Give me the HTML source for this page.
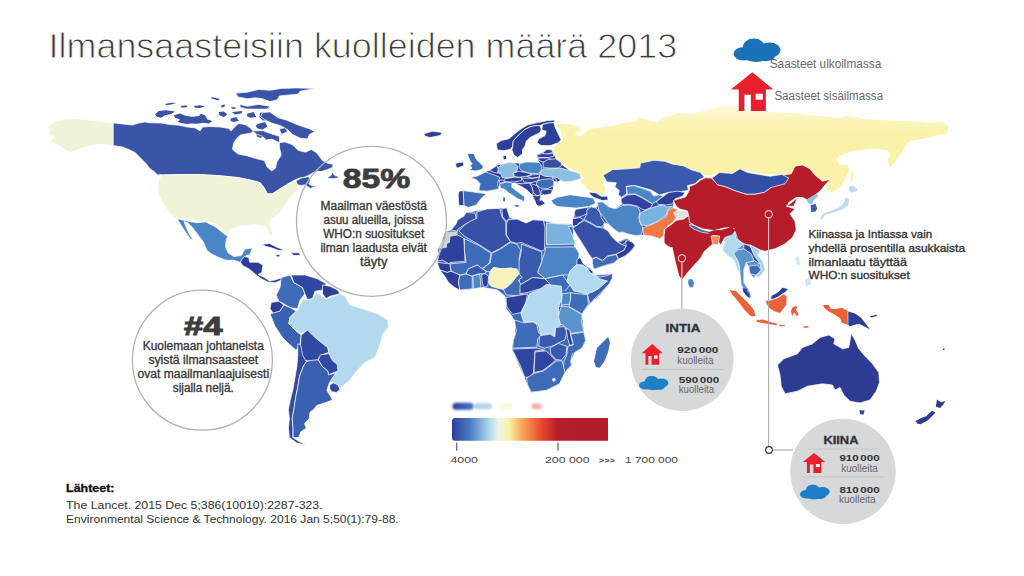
<!DOCTYPE html>
<html><head><meta charset="utf-8"><title>Ilmansaasteisiin kuolleiden määrä 2013</title>
<style>
html,body{margin:0;padding:0;background:#fff;}
body{width:1024px;height:576px;overflow:hidden;font-family:"Liberation Sans",sans-serif;}
svg{display:block;}
text{font-family:"Liberation Sans",sans-serif;}
</style></head><body>
<svg width="1024" height="576" viewBox="0 0 1024 576">
<rect width="1024" height="576" fill="#fff"/>
<g stroke="#fff" stroke-width="0.7" stroke-linejoin="round">
<path d="M47.5 126.2 L51.2 123.8 L55.0 121.2 L62.5 119.5 L70.0 118.8 L80.0 119.2 L90.0 120.0 L102.5 121.8 L113.2 123.0 L113.2 145.5 L107.5 144.5 L102.5 144.5 L96.2 144.5 L90.0 145.5 L85.0 147.0 L80.0 148.8 L75.0 150.8 L70.0 152.5 L66.2 150.0 L60.0 146.2 L55.0 143.8 L50.0 141.2 L53.0 138.8 L55.0 136.2 L51.2 135.5 L47.5 133.8 L50.0 132.0 L51.2 130.0 L48.8 128.8Z" fill="#eff3d7" />
<path d="M113.2 123.0 L122.5 124.0 L132.5 125.0 L138.8 123.0 L145.0 122.0 L150.0 122.8 L161.2 123.0 L170.0 124.6 L178.8 125.2 L187.5 127.1 L195.0 127.8 L200.0 130.9 L202.5 127.1 L210.0 126.5 L220.0 127.1 L228.8 128.4 L231.2 130.9 L235.0 126.5 L238.8 123.4 L245.0 124.6 L250.0 127.8 L253.8 131.5 L250.0 133.4 L245.0 134.0 L240.0 135.2 L236.2 139.0 L233.8 142.8 L232.5 149.0 L233.4 150.3 L238.1 154.1 L247.5 155.9 L256.9 158.8 L264.4 160.6 L267.2 167.2 L271.9 170.9 L275.6 168.1 L276.6 162.5 L281.3 155.0 L279.4 147.5 L279.4 142.8 L285.0 141.9 L292.5 144.7 L298.1 150.3 L305.6 152.2 L311.3 149.4 L316.9 153.1 L322.5 160.6 L327.5 163.1 L333.1 164.5 L332.7 167.3 L329.4 168.7 L325.6 170.2 L320.9 171.6 L318.1 171.1 L313.4 172.5 L308.7 175.3 L304.1 177.2 L299.4 178.1 L294.7 180.0 L290.0 182.8 L280.0 188.8 L272.5 193.8 L267.5 193.8 L263.8 187.5 L260.0 182.5 L250.0 180.0 L237.5 177.5 L220.0 175.8 L200.0 174.5 L180.0 174.5 L161.2 175.0 L161.2 174.5 L157.5 175.0 L153.8 171.2 L150.0 168.8 L146.2 163.8 L142.5 160.0 L138.8 156.2 L135.0 152.5 L128.8 149.5 L122.5 147.0 L113.2 145.5Z" fill="#3a55a8" />
<path d="M295.6 180.9 L302.2 177.7 L308.7 176.7 L310.2 180.9 L308.7 183.7 L312.5 186.1 L318.1 185.2 L314.4 187.0 L310.2 188.4 L307.8 186.6 L305.0 184.7 L301.2 185.6 L297.5 184.7Z" fill="#3a55a8" />
<path d="M327.5 177.7 L331.2 175.3 L332.7 172.0 L333.6 173.9 L335.0 175.8 L338.3 176.2 L337.8 178.1 L333.1 178.6 L329.4 178.6Z" fill="#3a55a8" />
<path d="M155.0 114.6 L158.8 110.9 L166.2 110.2 L175.0 111.5 L171.2 114.0 L165.0 115.2 L161.2 117.8 L156.9 116.8Z" fill="#3a55a8" stroke="none"/>
<path d="M173.8 115.2 L180.0 113.4 L186.2 115.9 L192.5 116.8 L198.8 115.9 L201.2 113.8 L205.0 115.2 L207.5 119.6 L212.5 120.9 L208.8 123.4 L202.5 122.8 L197.5 123.8 L191.2 123.4 L186.2 124.0 L177.5 122.1 L180.0 119.6 L175.0 117.8Z" fill="#3a55a8" stroke="none"/>
<path d="M165.0 104.0 L171.2 102.8 L176.2 103.0 L171.2 104.6 L166.2 105.2Z" fill="#3a55a8" stroke="none"/>
<path d="M180.6 105.9 L186.2 105.2 L187.5 107.1 L181.9 107.8Z" fill="#3a55a8" stroke="none"/>
<path d="M193.8 105.9 L200.0 105.2 L205.0 106.5 L200.0 108.0 L195.0 107.8Z" fill="#3a55a8" stroke="none"/>
<path d="M211.2 97.1 L220.0 99.0 L218.1 100.2 L211.9 98.8Z" fill="#3a55a8" stroke="none"/>
<path d="M218.8 112.1 L223.8 111.5 L227.5 114.6 L223.8 117.1 L219.4 115.2Z" fill="#3a55a8" stroke="none"/>
<path d="M221.2 105.2 L225.0 104.6 L224.4 107.1 L221.5 107.5Z" fill="#3a55a8" stroke="none"/>
<path d="M231.2 107.1 L236.2 107.8 L235.0 109.0 L231.9 108.8Z" fill="#3a55a8" stroke="none"/>
<path d="M231.9 112.1 L242.5 110.9 L241.2 113.4 L235.0 114.6Z" fill="#3a55a8" stroke="none"/>
<path d="M230.6 118.4 L236.2 117.1 L238.8 120.9 L233.8 122.1 L230.6 120.9Z" fill="#3a55a8" stroke="none"/>
<path d="M235.6 93.4 L242.5 92.8 L251.2 95.9 L248.8 98.4 L242.5 97.8 L237.5 96.5Z" fill="#3a55a8" stroke="none"/>
<path d="M240.0 104.6 L245.0 106.5 L253.8 107.1 L270.0 106.5 L268.8 108.4 L256.2 109.0 L245.0 108.8 L240.6 107.1Z" fill="#3a55a8" stroke="none"/>
<path d="M247.5 113.4 L253.8 112.1 L256.2 117.1 L250.0 117.8 L246.9 115.9Z" fill="#3a55a8" stroke="none"/>
<path d="M260.0 112.8 L268.8 112.1 L273.8 115.9 L278.0 117.1 L278.0 120.2 L270.0 120.9 L262.5 120.2 L259.4 117.1Z" fill="#3a55a8" stroke="none"/>
<path d="M257.5 124.0 L265.0 122.1 L267.5 126.5 L262.5 129.6 L257.5 128.4 L255.6 125.9Z" fill="#3a55a8" stroke="none"/>
<path d="M256.2 133.4 L261.2 134.0 L266.2 135.9 L260.0 137.8 L256.9 136.5Z" fill="#3a55a8" stroke="none"/>
<path d="M236.3 93.1 L247.5 92.2 L258.8 89.4 L270.0 90.3 L281.3 88.4 L296.3 87.9 L315.0 88.4 L300.0 91.3 L298.1 94.1 L288.8 95.0 L279.4 95.9 L277.5 99.7 L270.0 101.6 L262.5 98.8 L255.0 97.8 L247.5 98.8 L238.1 96.9Z" fill="#3a55a8" />
<path d="M240.0 104.4 L247.5 106.3 L258.8 104.4 L270.0 106.3 L266.3 109.1 L255.0 109.1 L247.5 109.1 L240.0 107.2Z" fill="#3a55a8" />
<path d="M262.5 112.8 L270.0 111.9 L277.5 117.5 L286.9 120.3 L298.1 125.0 L309.4 128.8 L315.0 131.6 L309.4 134.4 L307.5 139.1 L300.0 138.1 L292.5 134.4 L288.8 130.6 L281.3 125.9 L271.9 123.1 L264.4 119.4 L260.6 116.6Z" fill="#3a55a8" />
<path d="M279.4 128.8 L285.0 127.8 L287.8 131.6 L281.3 134.4Z" fill="#3a55a8" />
<path d="M252.2 131.0 L262.5 130.6 L270.0 133.4 L279.4 136.3 L279.4 142.8 L271.9 139.1 L266.3 140.0 L262.5 136.3 L256.9 134.4Z" fill="#3a55a8" />
<path d="M161.2 175.0 L180.0 174.5 L200.0 174.5 L220.0 175.8 L237.5 177.5 L250.0 180.0 L260.0 182.5 L263.8 187.5 L267.5 193.8 L272.5 193.8 L280.0 188.8 L290.0 182.8 L292.8 182.3 L295.6 180.9 L297.5 184.7 L297.5 190.0 L293.8 193.8 L290.0 197.5 L287.5 201.2 L285.0 205.0 L282.5 208.8 L280.0 212.5 L276.2 215.5 L272.5 217.5 L270.5 221.2 L270.0 225.0 L271.8 230.0 L272.5 235.0 L270.0 236.2 L267.5 232.0 L266.2 227.5 L263.0 225.8 L260.0 225.0 L255.0 224.5 L250.0 225.0 L245.0 225.5 L240.0 226.2 L235.0 227.8 L230.0 230.0 L228.5 232.5 L227.5 235.0 L224.5 232.5 L222.5 230.0 L220.0 227.0 L217.5 225.0 L213.8 223.2 L210.0 222.5 L205.0 222.5 L200.0 222.5 L196.2 221.0 L192.5 220.0 L185.0 219.2 L177.5 218.8 L175.0 217.5 L171.2 214.0 L167.5 210.0 L163.8 205.0 L161.2 200.0 L159.0 195.0 L157.5 190.0 L157.8 185.0 L158.8 180.0Z" fill="#eff3d7" />
<path d="M177.5 218.7 L186.9 220.9 L196.3 222.8 L205.6 221.9 L215.0 226.6 L224.4 234.1 L227.6 235.9 L226.3 239.7 L225.3 246.3 L228.1 252.8 L233.8 256.6 L241.3 255.6 L245.0 249.1 L252.5 248.1 L249.7 254.7 L245.9 255.6 L243.1 260.3 L239.4 262.2 L233.8 260.3 L226.3 260.3 L218.8 257.5 L211.3 253.8 L206.6 250.0 L203.8 242.5 L198.1 235.0 L192.5 227.5 L187.8 222.8 L184.1 221.5 L185.9 226.6 L188.8 233.1 L193.4 240.6 L190.6 239.1 L185.9 232.8 L181.3 225.6 L178.4 220.9Z" fill="#4a86c5" />
<path d="M240.3 262.2 L242.2 259.0 L244.1 256.6 L248.8 257.5 L249.7 262.2 L258.1 262.2 L262.8 265.0 L261.9 272.5 L258.1 274.4 L263.8 277.2 L269.4 280.9 L275.0 280.0 L280.6 278.1 L281.6 280.0 L275.0 282.8 L267.5 281.9 L260.0 278.1 L254.4 273.4 L248.8 268.8 L243.1 265.9Z" fill="#2d3f98" />
<path d="M261.9 244.4 L269.4 243.4 L276.9 247.2 L284.4 250.0 L278.8 250.4 L272.2 248.1 L265.6 246.3Z" fill="#2d3f98" />
<path d="M290.9 252.8 L299.4 252.8 L300.3 255.3 L293.8 255.6Z" fill="#2d3f98" />
<path d="M276.5 254.9 L279.5 254.9 L279.5 256.4 L276.5 256.4Z" fill="#2d3f98" stroke="none"/>
<path d="M423.8 133.8 L432.5 131.2 L442.5 132.5 L440.0 135.5 L430.0 137.5 L425.0 136.2Z" fill="#2d3f98" />
<path d="M281.2 277.5 L290.0 275.0 L293.8 282.5 L302.5 287.5 L305.0 293.8 L300.0 300.0 L297.5 308.8 L290.0 307.5 L283.8 303.8 L278.8 301.2 L276.2 295.0 L280.0 287.5Z" fill="#3f6cb8" />
<path d="M291.2 275.0 L305.0 275.0 L317.5 278.8 L326.2 283.8 L322.5 290.0 L315.0 291.2 L312.5 298.8 L307.5 300.0 L305.0 293.8 L302.5 287.5 L293.8 282.5Z" fill="#2f47a0" />
<path d="M322.5 285.0 L330.0 286.2 L337.5 290.0 L340.0 293.8 L330.0 296.2 L326.2 298.8 L322.5 293.8Z" fill="#2d3f98" />
<path d="M271.2 302.5 L278.8 301.2 L283.8 305.0 L280.0 311.2 L273.8 313.8 L270.0 308.8Z" fill="#2d3f98" />
<path d="M270.0 313.8 L280.0 311.2 L283.8 305.0 L290.0 307.5 L296.2 311.2 L290.0 317.5 L288.8 323.8 L295.0 330.0 L301.2 335.0 L300.0 345.0 L296.2 350.0 L290.0 345.0 L282.5 337.5 L275.0 326.2Z" fill="#3b62b2" />
<path d="M297.5 310.0 L302.5 300.0 L312.5 298.8 L316.2 292.5 L326.2 298.8 L340.0 293.8 L345.0 296.2 L350.0 305.0 L362.5 308.8 L377.5 313.8 L387.5 320.0 L388.8 326.2 L382.5 335.0 L380.0 345.0 L375.0 357.5 L365.0 362.5 L357.5 370.0 L350.0 380.0 L343.8 385.0 L340.0 388.8 L336.2 385.0 L335.0 378.8 L340.0 372.5 L335.0 373.8 L330.0 357.5 L327.5 347.5 L315.0 337.5 L307.5 330.0 L301.2 333.8 L295.0 330.0 L288.8 323.8 L290.0 317.5Z" fill="#b3d9ef" />
<path d="M301.2 335.0 L307.5 330.0 L315.0 337.5 L327.5 347.5 L328.8 352.5 L321.2 355.0 L317.5 360.0 L310.0 361.2 L303.8 360.0 L300.0 350.0Z" fill="#3049a1" />
<path d="M328.8 353.1 L332.5 360.6 L337.2 364.4 L338.1 370.9 L336.3 372.8 L332.5 377.5 L330.6 382.2 L333.4 382.4 L338.1 384.6 L341.9 385.9 L345.6 381.3 L351.3 375.6 L352.2 370.0 L356.9 365.3 L355.0 358.8 L340.0 351.3Z" fill="#b3d9ef" stroke="none"/>
<path d="M297.8 343.8 L300.6 344.7 L302.5 355.0 L306.3 361.6 L303.4 366.3 L299.7 375.6 L297.8 386.9 L295.9 396.3 L294.1 407.5 L292.2 418.8 L293.1 428.1 L292.8 437.5 L298.8 441.3 L306.3 445.0 L296.9 443.1 L289.4 437.5 L288.4 428.1 L289.4 418.8 L288.4 409.4 L290.3 400.0 L293.1 388.8 L295.0 377.5 L296.9 366.3 L297.8 355.0Z" fill="#3049a1" />
<path d="M306.3 361.6 L311.9 360.3 L318.4 359.7 L322.2 366.3 L327.8 370.9 L328.8 374.7 L336.3 372.8 L332.5 377.5 L328.8 384.1 L326.9 390.6 L330.6 396.3 L332.5 400.0 L325.0 402.8 L316.6 405.6 L314.7 408.4 L310.0 412.2 L309.1 418.8 L304.4 423.4 L306.3 428.1 L300.6 431.9 L298.8 437.5 L293.1 437.5 L293.1 428.1 L292.2 418.8 L294.1 407.5 L295.9 396.3 L297.8 386.9 L299.7 375.6 L303.4 366.3Z" fill="#3b60b2" />
<path d="M320.3 355.0 L328.8 353.5 L332.5 360.6 L337.2 364.4 L338.1 370.9 L328.8 374.7 L327.8 370.9 L322.2 366.3 L318.4 359.7Z" fill="#3049a1" />
<path d="M329.7 385.0 L333.4 382.8 L338.1 385.0 L340.0 389.7 L336.3 392.5 L331.6 391.6 L329.7 388.8Z" fill="#3049a1" />
<path d="M557.5 122.5 L575.0 125.0 L582.5 130.0 L575.0 133.8 L580.0 136.2 L590.0 128.8 L605.0 126.2 L615.0 125.0 L625.0 122.5 L635.0 121.2 L640.0 117.5 L650.0 120.0 L657.5 122.5 L662.5 117.5 L670.0 115.0 L680.0 112.5 L690.0 113.8 L700.0 111.2 L710.0 108.8 L720.0 106.2 L730.0 105.0 L740.0 106.2 L740.0 110.0 L765.0 111.2 L790.0 112.5 L815.0 115.0 L840.0 117.5 L847.5 115.0 L865.0 118.8 L890.0 120.0 L915.0 121.2 L930.0 122.5 L942.5 121.2 L948.8 126.2 L947.5 133.8 L935.0 136.2 L925.0 138.8 L910.0 141.2 L907.5 143.8 L902.5 152.5 L895.0 162.5 L890.0 167.5 L887.5 160.0 L890.0 153.8 L887.5 150.5 L875.0 149.0 L857.5 150.5 L845.0 153.8 L836.2 158.8 L840.0 165.0 L847.5 163.8 L850.0 170.0 L845.0 180.0 L840.0 187.5 L832.5 192.5 L826.2 190.0 L827.5 182.5 L830.0 179.2 L822.5 181.2 L815.0 175.0 L810.0 168.8 L802.5 165.0 L795.0 166.2 L791.2 173.8 L783.8 175.0 L791.2 181.2 L790.0 178.8 L780.0 175.0 L765.0 174.5 L752.5 172.5 L745.0 170.0 L737.5 173.8 L720.0 173.0 L712.5 175.0 L705.0 176.2 L702.5 173.8 L692.5 170.0 L680.0 166.2 L670.0 162.0 L657.5 160.0 L642.5 163.8 L640.0 168.8 L627.5 170.0 L612.5 171.2 L603.8 176.2 L605.0 178.8 L603.8 183.8 L606.2 190.0 L603.8 195.0 L590.0 191.2 L585.0 186.2 L580.0 181.2 L583.8 177.5 L580.0 173.8 L567.5 167.5 L563.0 165.0 L561.2 162.5 L557.5 158.8 L553.0 156.2 L551.8 153.0 L552.5 149.2 L557.5 143.8 L562.5 140.0 L560.0 130.0 L555.0 120.0Z" fill="url(#rg)" />
<path d="M851.2 166.2 L853.8 175.0 L852.5 183.8 L850.0 180.0Z" fill="url(#rg)" />
<path d="M470.8 177.5 L477.0 176.2 L485.8 171.9 L489.5 170.6 L493.2 168.1 L497.0 165.6 L502.0 164.4 L508.2 162.5 L514.5 163.1 L519.5 163.8 L527.0 161.9 L539.5 162.5 L538.2 160.0 L537.0 154.4 L542.0 153.1 L547.0 149.4 L552.0 150.0 L553.2 153.8 L555.8 158.8 L560.8 162.5 L562.0 165.0 L569.5 170.6 L580.0 173.8 L580.0 178.8 L572.0 181.2 L564.5 181.9 L560.8 180.0 L556.4 181.9 L553.9 181.2 L553.2 186.2 L552.6 190.0 L550.8 193.8 L544.5 195.0 L540.8 195.0 L539.5 202.5 L538.2 206.2 L534.5 200.0 L532.0 195.0 L527.0 190.0 L523.2 187.5 L522.0 183.8 L514.5 183.1 L512.0 183.1 L507.0 181.9 L499.5 183.8 L498.9 188.8 L493.2 190.0 L487.0 191.2 L478.9 190.6 L480.1 183.8 L477.0 180.0Z" fill="#2d3f98" stroke="none"/>
<path d="M496.2 143.8 L501.2 140.6 L508.8 138.8 L511.9 136.2 L516.2 132.5 L521.2 128.8 L527.5 125.0 L535.0 123.1 L541.2 121.9 L547.5 120.6 L555.0 120.0 L553.8 122.5 L548.1 123.1 L542.5 124.4 L540.0 125.6 L535.0 125.6 L530.0 126.9 L525.0 129.4 L520.0 133.8 L516.2 137.5 L513.1 141.2 L512.8 146.2 L510.0 149.4 L503.8 150.6 L497.5 150.0Z" fill="#2d3f98" />
<path d="M513.1 141.2 L516.2 137.5 L520.0 133.8 L525.0 129.4 L530.0 126.9 L535.0 125.6 L540.0 125.6 L541.2 129.4 L540.0 132.5 L535.0 135.0 L530.0 137.5 L526.2 141.2 L525.0 146.2 L522.5 149.4 L522.5 153.8 L517.5 157.5 L513.8 155.0 L511.9 150.0 L512.8 146.2Z" fill="#2d3f98" />
<path d="M542.5 124.4 L548.1 123.1 L553.8 122.5 L555.0 126.9 L557.5 132.5 L561.2 140.0 L557.5 143.1 L550.0 145.6 L541.2 145.6 L536.9 142.5 L538.8 138.8 L545.0 135.6 L546.2 131.2 L541.9 130.0Z" fill="#2d3f98" />
<path d="M503.2 156.2 L505.8 155.6 L506.4 158.8 L503.9 159.4Z" fill="#2d3f98" stroke="none"/>
<path d="M542.6 153.1 L547.0 149.4 L552.0 150.0 L552.6 152.5 L548.2 153.8 L544.5 154.8Z" fill="#2d3f98" />
<path d="M537.0 154.8 L542.6 153.5 L548.2 154.0 L553.0 153.1 L553.9 156.2 L548.2 157.5 L542.0 157.5 L538.2 157.5Z" fill="#2d3f98" />
<path d="M538.2 158.1 L542.0 157.9 L548.2 157.9 L550.8 159.4 L547.0 161.9 L542.0 161.9 L538.9 160.2Z" fill="#2d3f98" />
<path d="M543.2 162.5 L548.2 159.4 L555.8 158.8 L560.8 162.5 L562.0 165.0 L558.2 168.1 L550.8 168.1 L543.2 167.5Z" fill="#34509f" />
<path d="M540.8 171.9 L543.2 168.8 L552.0 168.8 L560.8 168.1 L569.5 170.6 L580.0 173.8 L580.8 178.8 L572.0 181.2 L564.5 181.9 L560.8 180.0 L557.0 177.5 L552.0 176.9 L544.5 176.2 L539.5 173.8Z" fill="#8cbde3" />
<path d="M519.5 163.8 L527.0 161.9 L539.5 162.5 L542.0 166.9 L540.8 171.9 L537.0 173.8 L529.5 173.1 L522.0 171.2 L518.9 167.5Z" fill="#4a86c5" />
<path d="M497.0 168.8 L502.0 164.4 L508.2 162.5 L514.5 163.1 L517.6 166.2 L517.0 171.2 L513.2 173.1 L514.5 176.9 L507.0 178.1 L502.0 177.5 L501.4 174.4 L497.6 172.5Z" fill="#8bbce2" />
<path d="M489.5 170.6 L493.2 168.1 L497.0 165.6 L498.2 169.4 L497.6 173.1 L494.5 172.5Z" fill="#2d3f98" />
<path d="M470.8 177.5 L477.0 176.2 L485.8 171.9 L490.8 173.8 L495.8 175.6 L500.1 177.5 L498.2 181.2 L497.6 185.0 L498.9 188.8 L493.2 190.0 L487.0 191.2 L478.9 190.6 L480.1 183.8 L477.0 180.0Z" fill="#3f6cb8" />
<path d="M498.9 180.6 L503.2 179.8 L504.5 181.9 L500.1 183.1Z" fill="#2d3f98" />
<path d="M504.5 178.8 L514.5 177.2 L522.0 177.5 L521.4 180.6 L514.5 181.9 L505.1 181.9Z" fill="#2d3f98" />
<path d="M513.2 173.1 L519.5 171.2 L527.0 172.8 L532.0 174.4 L527.0 176.2 L519.5 177.2 L514.5 176.5Z" fill="#2d3f98" />
<path d="M527.0 176.5 L532.6 174.8 L539.5 174.4 L539.5 176.9 L532.0 178.1Z" fill="#2d3f98" />
<path d="M522.0 178.1 L532.0 178.5 L539.5 177.2 L538.2 180.6 L532.0 182.5 L523.9 182.2Z" fill="#2d3f98" />
<path d="M537.0 181.2 L542.0 179.4 L550.8 178.8 L553.9 181.2 L553.2 186.2 L547.0 188.8 L540.8 188.1 L536.4 185.0Z" fill="#3f6cb8" />
<path d="M552.0 177.5 L555.8 178.8 L556.4 181.9 L553.9 181.2Z" fill="#2d3f98" />
<path d="M541.4 190.0 L548.2 189.4 L552.6 190.0 L550.8 193.8 L544.5 195.0 L540.8 193.1Z" fill="#2d3f98" />
<path d="M529.5 183.1 L537.0 185.6 L539.5 190.0 L540.5 195.0 L537.0 195.6 L533.2 192.5 L532.0 187.5Z" fill="#2d3f98" />
<path d="M514.5 183.1 L522.0 183.8 L529.5 183.1 L532.0 187.5 L533.2 192.5 L532.0 195.0 L527.0 190.0 L523.2 187.5 L519.5 185.6Z" fill="#2d3f98" />
<path d="M532.0 195.0 L537.0 195.9 L540.8 195.0 L539.5 202.5 L538.2 206.2 L534.5 200.0Z" fill="#2d3f98" />
<path d="M535.5 201.9 L541.8 200.3 L544.9 203.4 L540.2 205.8 L537.1 205.0Z" fill="#2d3f98" stroke="none"/>
<path d="M499.5 183.8 L507.0 181.9 L512.2 183.1 L511.6 186.9 L515.4 190.0 L520.4 193.8 L524.8 196.9 L524.1 202.1 L521.4 200.2 L518.0 199.0 L513.6 195.9 L508.6 192.8 L504.9 189.6 L500.5 188.1Z" fill="#4a86c5" />
<path d="M514.5 205.0 L518.9 204.8 L518.2 206.9 L515.1 206.5Z" fill="#4a86c5" stroke="none"/>
<path d="M503.2 197.5 L505.1 197.5 L505.1 201.2 L503.2 201.2Z" fill="#3f6cb8" stroke="none"/>
<path d="M467.6 153.5 L473.9 153.5 L475.4 157.5 L477.2 160.6 L480.4 163.1 L483.5 166.9 L481.6 169.6 L475.8 170.9 L469.2 170.2 L472.0 168.0 L470.2 165.6 L472.4 163.8 L470.2 161.2 L469.2 158.8 L468.0 156.2Z" fill="#3e6fb7" />
<path d="M455.8 163.1 L463.2 161.9 L463.9 165.6 L457.6 168.1 L455.8 166.2Z" fill="#2d3f98" />
<path d="M463.2 190.6 L477.0 192.5 L486.4 193.8 L482.6 196.9 L478.9 201.2 L476.4 205.0 L468.2 207.5 L463.9 205.6Z" fill="#3f6cb8" />
<path d="M458.9 191.2 L463.2 190.6 L463.9 205.6 L458.9 205.6 L458.2 195.0Z" fill="#2d3f98" />
<path d="M437.5 261.2 L438.8 255.0 L437.5 250.0 L441.2 242.5 L445.0 231.9 L451.2 230.0 L456.2 223.8 L457.5 220.0 L463.8 216.2 L466.2 212.5 L487.1 208.9 L506.6 207.8 L509.7 217.5 L526.1 223.0 L533.2 219.8 L543.3 220.6 L557.4 223.8 L571.4 223.8 L573.0 226.9 L576.2 266.2 L590.0 267.5 L595.0 275.0 L612.5 273.8 L610.0 282.5 L600.0 295.0 L590.0 303.8 L582.5 312.5 L581.2 322.5 L583.8 330.0 L585.0 343.8 L575.0 352.5 L571.2 360.0 L565.0 368.8 L561.2 377.5 L552.5 386.2 L540.0 391.2 L530.0 391.2 L525.0 378.8 L517.5 362.5 L512.5 348.8 L515.0 335.0 L515.0 320.0 L506.2 308.8 L505.0 296.2 L497.5 290.0 L483.5 287.5 L473.5 288.8 L466.0 289.4 L459.8 290.0 L454.8 287.5 L448.5 282.5 L444.8 276.2 L439.8 270.0 L437.2 262.5Z" fill="#3f6cb8" />
<path d="M451.2 230.0 L456.2 223.8 L457.5 220.0 L463.8 216.2 L466.2 212.5 L475.0 213.1 L476.2 218.8 L470.0 221.9 L465.0 224.4 L457.5 229.4 L457.5 231.2Z" fill="#3651a6" />
<path d="M445.0 231.9 L457.5 231.2 L457.5 235.0 L450.0 236.2 L449.4 242.5 L446.9 243.1 L446.2 247.5 L440.0 248.1 L437.5 250.0 L441.2 242.5 L444.4 237.5Z" fill="#d2d2d2" stroke="none"/>
<path d="M476.9 212.0 L487.1 208.9 L499.6 208.4 L501.9 216.7 L505.8 222.2 L505.8 234.7 L510.5 241.7 L499.6 248.8 L491.8 252.7 L479.2 244.8 L464.4 236.2 L458.9 230.8 L465.2 224.5 L471.4 220.6 L476.9 218.3Z" fill="#3651a6" />
<path d="M501.9 208.9 L506.6 207.8 L508.2 212.8 L509.7 217.5 L506.6 221.4 L502.7 216.7Z" fill="#2d3f98" />
<path d="M508.2 219.8 L516.8 219.1 L526.1 223.0 L533.2 219.8 L543.3 220.6 L544.9 226.9 L544.6 249.5 L541.8 251.1 L521.4 242.5 L516.8 243.3 L510.5 241.7 L506.6 234.7 L506.6 223.0Z" fill="#3042a0" />
<path d="M546.4 223.0 L557.4 223.8 L566.8 224.5 L571.4 223.8 L573.0 226.9 L568.3 226.1 L572.2 234.7 L575.3 244.1 L546.4 244.8Z" fill="#7ab3df" />
<path d="M545.7 247.2 L575.3 246.9 L579.2 253.4 L577.7 262.8 L590.0 266.2 L576.2 266.2 L568.8 275.0 L562.5 275.0 L545.0 278.8 L537.5 272.5 L541.8 261.2 L544.9 251.9Z" fill="#4a86c5" />
<path d="M521.4 244.1 L541.8 251.9 L541.8 261.2 L537.5 272.5 L545.0 278.8 L532.5 277.5 L520.0 285.0 L518.8 277.5 L515.0 270.0 L519.9 258.1 L521.4 250.3Z" fill="#3a5aad" />
<path d="M491.8 253.4 L499.6 249.5 L510.5 242.5 L516.8 244.1 L520.7 250.3 L519.1 258.1 L519.1 273.8 L517.2 269.4 L511.0 268.1 L501.0 268.8 L493.5 267.5 L489.8 271.9 L486.0 271.2 L482.2 268.8 L490.2 262.8Z" fill="#3f6cb8" />
<path d="M464.4 238.6 L479.2 245.6 L491.0 253.4 L489.4 262.8 L482.2 268.8 L477.2 265.0 L468.5 268.8 L466.0 273.8 L459.8 275.0 L451.0 271.2 L449.8 263.8 L466.0 262.5 L464.4 250.3Z" fill="#3f6cb8" />
<path d="M450.0 236.2 L457.5 235.0 L462.5 237.5 L463.8 238.8 L465.0 261.2 L450.0 262.5 L448.8 263.8 L442.5 260.0 L437.5 261.2 L438.8 255.0 L440.0 248.1 L446.2 247.5 L446.9 243.1 L449.4 242.5Z" fill="#2f419d" />
<path d="M489.8 271.9 L493.5 267.5 L501.0 268.8 L511.0 268.1 L517.2 269.4 L519.1 273.8 L516.0 277.5 L512.2 282.5 L507.2 286.9 L503.5 289.4 L497.2 288.1 L491.0 286.2 L488.5 282.5 L489.1 276.2Z" fill="#f8f2bd" />
<path d="M437.2 262.5 L449.8 263.8 L451.0 271.2 L447.2 272.5 L443.5 271.2 L439.8 270.0Z" fill="#2d3f98" />
<path d="M439.8 270.0 L443.5 271.2 L447.2 272.5 L451.0 271.2 L459.8 275.0 L458.5 281.2 L459.8 290.0 L454.8 287.5 L448.5 282.5 L444.8 276.2Z" fill="#2d3f98" />
<path d="M459.8 275.6 L466.0 273.8 L472.2 276.2 L472.2 288.8 L466.0 289.4 L459.8 290.0 L458.5 281.2Z" fill="#3f6cb8" />
<path d="M468.5 268.8 L477.2 265.0 L482.2 268.8 L486.0 271.2 L485.4 273.8 L478.5 273.8 L472.2 276.2 L466.0 273.8Z" fill="#3a5aad" />
<path d="M472.9 275.6 L479.8 274.4 L481.0 287.5 L473.5 288.8Z" fill="#4a86c5" />
<path d="M481.6 274.4 L485.4 273.8 L488.5 276.2 L487.9 285.6 L483.5 287.5 L482.2 281.2Z" fill="#2d3f98" />
<path d="M503.5 289.4 L507.2 286.9 L512.2 282.5 L516.0 277.5 L519.1 273.8 L522.2 277.5 L518.5 280.0 L521.0 285.0 L522.2 295.0 L516.0 295.6 L506.0 295.0Z" fill="#3f6cb8" />
<path d="M520.0 285.0 L532.5 277.5 L545.0 278.8 L555.0 287.5 L550.0 290.0 L540.0 288.8 L527.5 292.5 L520.0 293.8Z" fill="#2f47a0" />
<path d="M545.0 278.8 L562.5 275.0 L570.0 285.0 L565.0 291.2 L555.0 290.0Z" fill="#3f6cb8" />
<path d="M576.2 264.8 L582.5 265.0 L587.5 268.2 L591.9 272.0 L593.8 276.0 L600.0 279.1 L607.5 281.0 L603.8 284.1 L598.8 288.5 L592.5 292.2 L586.2 294.1 L580.0 292.2 L573.8 291.0 L570.6 286.0 L566.9 281.6 L568.1 276.0 L570.0 271.0Z" fill="#b3d9ef" />
<path d="M576.9 259.8 L580.0 257.2 L583.1 263.5 L590.0 269.1 L593.1 271.6 L592.5 274.1 L590.0 272.5 L587.5 268.2 L582.5 265.0 L576.9 264.5Z" fill="#2d3f98" />
<path d="M593.1 274.1 L596.2 276.0 L600.0 277.0 L606.2 275.8 L612.8 273.5 L612.1 278.5 L609.4 283.5 L605.0 288.5 L600.0 293.5 L595.0 298.0 L590.0 303.8 L587.5 295.0 L590.0 292.5 L592.5 292.2 L598.8 288.5 L603.8 284.1 L607.5 281.0 L600.0 279.1Z" fill="#3a5aad" />
<path d="M505.9 297.5 L527.5 293.8 L561.3 290.0 L587.5 294.7 L588.4 304.1 L581.9 314.4 L583.8 332.2 L585.6 340.6 L581.9 348.1 L572.5 353.8 L570.6 361.3 L571.6 365.0 L565.0 372.5 L559.4 383.8 L546.3 390.3 L531.3 392.2 L527.5 384.7 L524.7 377.2 L520.0 365.0 L512.1 349.1 L513.4 340.6 L516.3 331.3 L514.4 320.0 L506.9 306.9Z" fill="#3f6cb8" stroke="none"/>
<path d="M505.9 297.5 L518.1 295.6 L527.5 293.8 L525.6 303.1 L520.9 312.5 L512.5 314.4 L506.9 306.9Z" fill="#2d3f98" />
<path d="M520.9 313.4 L526.6 301.3 L529.4 293.8 L538.8 290.0 L546.3 284.4 L561.3 286.2 L562.2 297.5 L558.4 306.9 L558.4 318.1 L561.3 324.7 L555.6 327.5 L554.7 335.9 L550.0 333.5 L540.6 335.0 L538.4 324.7 L533.1 321.9 L523.8 322.3Z" fill="#b3d9ef" />
<path d="M562.2 293.8 L570.6 292.8 L570.3 304.1 L561.3 305.0Z" fill="#4a86c5" />
<path d="M558.4 306.9 L562.2 305.9 L562.2 314.4 L559.0 315.3Z" fill="#2d3f98" />
<path d="M570.6 292.8 L587.5 294.7 L588.4 304.1 L581.9 314.0 L568.8 306.5 L570.6 299.4Z" fill="#3f6cb8" />
<path d="M560.3 308.8 L562.2 305.9 L568.8 306.9 L581.9 314.4 L581.9 322.8 L583.8 331.6 L570.6 333.5 L565.0 326.6 L560.3 323.8 L558.4 316.3Z" fill="#5b93cc" />
<path d="M514.4 320.0 L523.8 322.8 L533.1 321.9 L536.9 324.7 L538.8 333.1 L541.6 335.0 L537.8 338.8 L536.9 347.2 L512.5 348.1 L513.4 340.6 L516.3 331.3Z" fill="#3f6cb8" />
<path d="M512.1 349.1 L536.9 348.1 L544.4 350.0 L535.0 350.9 L533.5 372.5 L530.3 377.2 L524.7 377.2 L520.0 365.0Z" fill="#2f47a0" />
<path d="M535.0 351.9 L546.3 350.9 L555.6 360.3 L550.0 365.0 L542.5 370.6 L534.1 372.5Z" fill="#2f47a0" />
<path d="M539.7 335.9 L550.0 334.1 L554.7 336.9 L555.6 327.5 L564.1 326.6 L566.9 331.3 L565.0 339.7 L559.4 342.5 L551.9 346.3 L544.4 348.1 L538.8 346.3Z" fill="#3a5aad" />
<path d="M550.0 348.1 L558.4 343.4 L566.9 346.3 L565.9 354.7 L561.3 360.3 L555.6 359.4 L550.9 353.8Z" fill="#3a5aad" />
<path d="M565.9 328.4 L569.7 330.3 L571.6 339.7 L573.4 344.4 L569.7 345.3 L567.8 338.8Z" fill="#2d3f98" />
<path d="M570.6 334.1 L583.8 332.2 L585.6 340.6 L581.9 348.1 L572.5 353.8 L570.6 361.3 L571.6 365.0 L567.8 368.8 L565.0 372.5 L563.1 368.8 L564.1 361.3 L566.9 354.7 L567.8 346.3 L573.4 344.8 L572.1 339.1Z" fill="#3f6cb8" />
<path d="M526.6 378.1 L534.1 373.4 L543.4 371.0 L550.9 365.4 L556.6 360.9 L562.2 360.9 L564.1 368.8 L565.0 372.5 L562.2 378.1 L559.4 383.8 L546.3 390.3 L531.3 392.2 L527.5 384.7Z" fill="#3f6cb8" />
<path d="M551.9 379.1 L554.7 377.8 L556.0 380.0 L553.4 381.9Z" fill="#fff" stroke="none"/>
<path d="M594.1 361.3 L596.9 348.1 L602.5 342.5 L608.1 336.9 L610.0 342.5 L608.1 351.9 L604.4 361.3 L599.7 367.8 L595.9 366.9Z" fill="#3f6cb8" stroke="none"/>
<path d="M573.8 227.5 L574.4 212.5 L575.6 209.4 L586.9 207.8 L591.2 206.9 L596.2 208.1 L598.1 205.0 L597.5 202.5 L602.5 201.9 L608.8 206.9 L615.0 208.8 L621.9 204.4 L621.2 198.8 L626.9 194.4 L626.2 186.9 L633.8 185.2 L641.2 187.8 L650.0 191.0 L653.8 196.0 L658.8 194.8 L663.8 196.0 L668.8 192.2 L677.5 191.0 L685.0 192.5 L682.5 196.2 L675.0 198.8 L673.1 204.4 L672.5 208.1 L677.5 209.4 L675.0 213.8 L676.2 217.5 L672.5 222.5 L667.5 226.2 L663.8 230.0 L663.8 235.0 L660.0 238.8 L652.5 236.2 L643.8 235.0 L641.2 235.0 L635.0 235.6 L627.5 233.8 L622.5 231.9 L618.8 232.5 L613.8 228.8 L607.5 223.1 L604.4 222.5 L603.1 228.1 L608.1 231.0 L611.2 236.0 L617.5 242.2 L626.2 238.5 L632.5 242.2 L635.0 245.4 L632.5 249.1 L628.8 252.9 L625.0 256.0 L618.8 258.8 L613.8 262.9 L605.0 265.4 L597.5 267.9 L593.8 269.1 L592.5 263.5 L592.2 259.1 L589.4 254.8 L586.2 249.8 L582.5 243.5 L577.5 236.0 L573.1 228.5Z" fill="#3651a6" stroke="none"/>
<path d="M551.1 200.3 L557.4 197.2 L569.9 194.8 L582.4 196.4 L593.3 198.0 L595.7 203.4 L588.6 206.6 L576.1 208.1 L566.8 207.3 L557.4 206.6 L552.7 203.4Z" fill="#4a86c5" />
<path d="M589.4 191.9 L596.2 193.1 L601.2 196.2 L607.5 196.2 L608.1 200.0 L602.5 200.6 L597.5 198.8 L593.8 197.5 L590.0 194.4Z" fill="#2d3f98" />
<path d="M575.6 209.4 L586.2 207.5 L588.8 210.0 L586.9 213.8 L580.0 216.9 L575.0 217.5 L574.4 212.5Z" fill="#2f47a0" />
<path d="M586.9 210.0 L591.2 206.9 L596.2 208.1 L600.0 212.5 L601.2 217.5 L604.4 222.5 L602.5 226.9 L596.2 226.2 L591.2 223.1 L583.8 219.4 L586.9 214.4Z" fill="#3a5aad" />
<path d="M572.5 218.8 L580.0 217.5 L583.8 220.0 L578.8 223.1 L576.2 225.6 L572.5 226.2Z" fill="#2d3f98" />
<path d="M597.5 202.5 L602.5 201.9 L608.8 206.9 L615.0 208.8 L622.5 205.6 L630.0 205.0 L637.5 206.9 L640.0 211.2 L638.8 217.5 L640.0 222.5 L643.1 228.1 L641.2 235.0 L635.0 235.6 L627.5 233.8 L622.5 231.9 L618.8 232.5 L613.8 228.8 L607.5 223.1 L603.8 217.5 L600.0 212.5 L598.1 207.5Z" fill="#4a86c5" />
<path d="M573.8 227.5 L578.8 223.8 L584.4 220.6 L591.2 223.8 L596.2 226.9 L603.1 228.1 L608.1 231.0 L611.2 236.0 L617.5 242.2 L622.5 244.8 L626.2 246.0 L623.8 250.4 L616.2 254.1 L607.5 256.0 L602.5 260.4 L596.2 257.2 L592.5 258.5 L589.4 254.8 L586.2 249.8 L582.5 243.5 L577.5 236.0 L573.1 228.5Z" fill="#3651a6" />
<path d="M592.5 259.1 L596.2 257.5 L602.5 260.8 L607.5 256.4 L616.2 254.5 L618.1 259.1 L613.8 262.9 L605.0 265.4 L597.5 267.9 L593.8 269.1 L592.5 263.5Z" fill="#3f6cb8" />
<path d="M616.2 254.1 L623.8 250.4 L626.2 246.0 L625.6 242.2 L627.5 240.4 L632.5 242.2 L635.0 245.4 L632.5 249.1 L628.8 252.9 L625.0 256.0 L618.8 258.8Z" fill="#2d3f98" />
<path d="M617.5 241.6 L622.5 241.0 L626.2 238.5 L625.6 242.2 L622.5 244.5Z" fill="#2d3f98" />
<path d="M603.1 175.3 L612.5 169.7 L627.5 168.8 L639.7 167.8 L640.6 163.1 L653.8 160.3 L665.0 161.3 L672.5 164.1 L683.8 165.9 L691.3 169.7 L700.6 172.5 L704.4 177.2 L698.8 180.0 L695.0 183.8 L687.5 185.6 L688.4 190.3 L678.1 192.2 L668.8 192.2 L659.4 195.0 L651.9 190.3 L642.5 187.5 L635.0 185.6 L626.2 186.2 L626.9 193.7 L621.3 197.4 L618.1 194.4 L619.4 190.7 L614.9 186.9 L616.3 182.8 L606.9 181.9Z" fill="#3a5aad" />
<path d="M626.2 186.9 L633.8 185.6 L641.2 188.1 L650.0 191.2 L653.8 196.2 L658.8 195.0 L663.8 196.2 L660.0 198.8 L656.2 201.2 L652.5 203.8 L647.5 200.6 L641.2 196.9 L635.0 193.8 L627.5 194.4Z" fill="#4a86c5" />
<path d="M621.2 198.8 L627.5 195.0 L635.0 194.4 L641.2 197.5 L647.5 201.2 L652.5 204.4 L650.0 208.1 L645.0 210.0 L641.2 208.8 L637.5 206.2 L630.0 204.4 L622.5 204.4 L621.2 201.2Z" fill="#3042a0" />
<path d="M660.0 198.8 L663.8 196.2 L668.8 192.5 L677.5 191.2 L685.0 192.5 L682.5 196.2 L675.0 198.8 L672.5 203.8 L666.2 205.0 L658.8 204.4 L656.2 201.9Z" fill="#2d3f98" />
<path d="M640.0 213.1 L645.0 210.6 L651.2 208.1 L658.8 205.6 L663.8 205.0 L666.2 206.9 L672.5 206.2 L667.5 210.0 L666.2 215.0 L661.2 218.8 L655.0 222.5 L647.5 225.6 L641.2 225.0 L639.4 218.8Z" fill="#7ab3df" />
<path d="M642.5 228.1 L647.5 226.2 L655.0 223.1 L661.9 219.4 L666.9 215.6 L668.1 210.6 L672.5 208.1 L677.5 209.4 L675.0 213.8 L676.2 217.5 L672.5 222.5 L667.5 226.2 L663.8 230.0 L663.8 235.0 L660.0 238.8 L652.5 236.2 L643.8 235.0Z" fill="#ee7a45" />
<path d="M673.8 212.5 L680.0 210.6 L688.0 211.2 L688.8 216.2 L682.5 218.8 L676.2 217.5Z" fill="#e2e2e2" />
<path d="M673.4 200.6 L678.1 199.1 L685.6 196.9 L689.4 190.3 L689.4 186.6 L695.9 183.8 L700.6 180.0 L705.3 177.8 L711.9 178.1 L717.5 184.7 L725.0 186.6 L734.4 190.3 L745.6 194.1 L755.0 194.1 L764.4 192.2 L770.9 187.5 L783.8 175.0 L791.2 173.8 L795.0 166.2 L802.5 165.0 L810.0 168.8 L815.0 175.0 L822.5 181.2 L830.0 179.2 L825.0 185.0 L820.0 191.2 L815.0 195.0 L807.5 200.0 L802.5 197.5 L796.2 197.5 L788.8 202.5 L787.5 206.2 L793.8 206.2 L797.5 197.5 L790.0 203.8 L786.2 206.2 L795.0 208.8 L790.0 213.8 L795.0 221.2 L796.2 230.0 L792.5 237.5 L785.0 243.8 L775.0 248.8 L765.0 251.2 L760.0 250.0 L755.0 247.5 L750.0 245.0 L742.5 243.8 L737.5 238.8 L735.0 231.2 L727.5 227.5 L734.4 228.8 L725.0 227.8 L713.8 230.6 L702.5 228.8 L695.0 225.9 L689.4 222.2 L688.4 214.7 L687.5 210.9 L680.0 209.1 L676.3 206.3Z" fill="#b51d2b" />
<path d="M711.9 178.1 L719.4 172.5 L732.5 173.4 L740.0 168.8 L747.5 172.5 L758.8 174.4 L770.0 176.3 L782.0 174.4 L788.8 178.1 L785.0 183.8 L770.9 187.5 L764.4 192.2 L755.0 194.1 L745.6 194.1 L734.4 190.3 L725.0 186.6 L717.5 184.7Z" fill="#3450a6" />
<path d="M676.3 220.3 L683.8 219.0 L688.8 215.6 L689.4 222.2 L695.0 225.9 L702.5 230.6 L711.9 232.5 L713.8 238.1 L719.4 237.2 L725.0 232.5 L728.8 234.4 L721.3 240.0 L717.5 243.8 L711.9 244.7 L704.4 251.3 L700.6 258.0 L688.1 271.9 L681.9 280.3 L678.8 275.6 L675.0 260.6 L672.2 247.5 L670.6 247.5 L666.9 245.6 L664.1 242.8 L664.1 235.3 L665.0 228.8 L670.6 225.0Z" fill="#b51d2b" />
<path d="M689.4 224.1 L695.0 225.9 L702.5 229.7 L710.0 231.6 L709.1 233.4 L702.5 232.5 L695.0 229.7 L690.3 226.9Z" fill="#3f6cb8" />
<path d="M712.8 231.0 L718.4 230.6 L718.4 232.9 L713.4 233.3Z" fill="#2d3f98" />
<path d="M688.5 279.6 L691.9 278.9 L694.1 282.8 L693.0 287.1 L690.0 287.5 L688.1 283.8Z" fill="#4a86c5" stroke="none"/>
<path d="M721.2 233.8 L733.8 230.0 L737.5 238.8 L743.8 243.8 L750.0 245.0 L760.0 250.0 L757.5 255.0 L762.5 261.2 L765.0 270.0 L760.0 276.2 L753.8 277.5 L750.0 273.8 L748.8 266.2 L746.2 262.5 L743.8 270.0 L743.8 282.5 L748.8 290.0 L751.2 297.5 L746.2 295.0 L741.2 285.0 L740.0 272.5 L737.5 270.0 L733.8 260.0 L727.5 255.0 L722.5 250.0 L725.0 242.5Z" fill="#5b93cc" stroke="none"/>
<path d="M721.2 233.8 L727.5 231.2 L733.8 230.0 L736.2 238.8 L743.8 243.8 L737.5 248.8 L733.8 252.5 L738.8 262.5 L740.0 272.5 L737.5 270.0 L733.8 260.0 L727.5 255.0 L722.5 250.0 L725.0 242.5Z" fill="#b3d9ef" />
<path d="M737.5 250.0 L743.8 248.8 L752.5 253.8 L753.8 261.2 L746.2 262.5 L743.8 270.0 L743.8 282.5 L748.8 290.0 L746.2 292.5 L741.2 285.0 L740.0 272.5 L738.8 262.5 L733.8 253.8Z" fill="#5b93cc" />
<path d="M743.8 243.8 L750.0 246.2 L753.8 252.5 L760.0 260.0 L758.8 263.8 L753.8 260.0 L751.2 253.8 L743.8 248.8Z" fill="#2f47a0" />
<path d="M750.0 245.0 L760.0 250.0 L757.5 255.0 L762.5 261.2 L765.0 270.0 L760.0 276.2 L753.8 277.5 L761.2 270.0 L760.0 263.8 L753.8 255.0Z" fill="#a8d0ec" />
<path d="M748.8 266.2 L757.5 265.0 L761.2 270.0 L756.2 275.0 L750.0 273.8Z" fill="#3f6cb8" />
<path d="M795.0 257.5 L798.8 256.2 L800.0 265.0 L796.2 263.8Z" fill="#cfe6f5" stroke="none"/>
<path d="M805.0 280.0 L810.0 277.5 L811.2 283.8 L806.2 286.2Z" fill="#cfe6f5" stroke="none"/>
<path d="M729.4 290.0 L735.9 290.9 L742.5 297.5 L748.1 303.1 L753.8 309.7 L755.6 316.3 L750.9 316.3 L744.4 309.7 L738.8 302.2 L733.1 295.6Z" fill="#e9623a" stroke="none"/>
<path d="M756.6 320.0 L763.1 319.6 L770.6 321.9 L777.2 323.8 L776.3 325.3 L768.8 324.1 L761.3 322.8 L757.1 321.9Z" fill="#e9623a" stroke="none"/>
<path d="M779.1 324.7 L784.7 324.9 L784.7 326.2 L779.1 326.0Z" fill="#e9623a" stroke="none"/>
<path d="M803.4 326.6 L808.1 326.0 L808.5 327.5 L803.8 328.1Z" fill="#e9623a" stroke="none"/>
<path d="M765.0 300.3 L769.7 300.3 L772.5 299.4 L778.1 297.5 L783.8 293.8 L787.1 296.6 L786.6 305.0 L782.8 309.7 L780.0 313.4 L774.4 311.6 L769.7 308.8 L766.9 305.0Z" fill="#e9623a" />
<path d="M770.3 298.4 L771.6 295.6 L778.1 291.9 L782.8 287.2 L788.4 289.1 L785.6 291.9 L782.8 293.8 L778.1 297.1 L772.5 299.4Z" fill="#2d3f98" />
<path d="M742.5 288.1 L746.3 289.1 L749.1 294.7 L750.0 298.4 L746.3 295.6 L743.4 291.9Z" fill="#2d3f98" stroke="none"/>
<path d="M792.2 307.8 L795.0 305.9 L797.8 306.9 L795.9 309.7 L798.8 314.4 L796.9 316.3 L794.1 312.5 L792.2 316.3 L790.9 311.6Z" fill="#e9623a" stroke="none"/>
<path d="M823.1 305.0 L828.8 305.0 L830.6 308.8 L836.3 309.1 L841.9 307.8 L847.5 310.6 L847.9 324.7 L841.9 322.8 L840.0 318.1 L834.4 314.4 L828.8 311.6 L824.1 307.8Z" fill="#e9623a" stroke="none"/>
<path d="M848.3 311.6 L855.0 313.4 L860.6 317.2 L864.4 321.9 L870.0 329.4 L864.4 326.6 L858.8 323.8 L855.0 324.7 L849.4 326.6 L848.3 324.7Z" fill="#2d3f98" stroke="none"/>
<path d="M870.0 316.3 L876.6 314.8 L877.1 315.9 L870.9 317.6Z" fill="#2d3f98" stroke="none"/>
<path d="M943.0 348.5 L944.5 348.5 L944.5 350.0 L943.0 350.0Z" fill="#2d3f98" stroke="none"/>
<path d="M845.6 196.9 L849.4 199.4 L848.1 205.0 L843.8 208.8 L837.5 211.2 L831.2 213.1 L825.0 215.0 L821.9 220.0 L820.0 218.1 L823.1 213.8 L830.0 211.2 L837.5 208.1 L842.5 205.0 L845.0 200.6Z" fill="#bcdcf0" stroke="none"/>
<path d="M848.8 186.9 L851.9 185.6 L858.1 189.4 L855.0 191.9 L851.2 192.5 L849.0 190.6Z" fill="#bcdcf0" stroke="none"/>
<path d="M806.2 199.4 L810.6 196.9 L816.9 193.8 L818.1 196.2 L813.8 200.0 L812.5 203.8 L808.8 203.8Z" fill="#8fc0e6" stroke="none"/>
<path d="M810.6 205.0 L815.6 204.0 L817.2 208.8 L815.6 211.5 L811.2 212.1Z" fill="#3a5fb2" stroke="none"/>
<path d="M777.5 365.0 L783.8 358.8 L797.5 353.8 L802.5 347.5 L812.5 343.8 L820.0 337.5 L828.8 335.0 L835.0 338.8 L833.8 343.8 L842.5 348.8 L848.8 347.5 L851.2 333.8 L855.0 340.0 L858.8 348.8 L865.0 356.2 L872.5 363.8 L878.8 372.5 L879.5 382.5 L876.2 391.2 L870.0 400.0 L860.0 403.0 L850.0 401.2 L843.8 395.0 L840.0 387.5 L835.0 390.0 L832.5 385.0 L822.5 383.8 L807.5 386.2 L797.5 391.2 L785.0 393.8 L781.2 386.2 L780.0 375.0Z" fill="#2d3b93" />
<path d="M858.8 410.0 L865.0 410.0 L863.8 415.0 L860.0 414.5Z" fill="#2d3b93" />
<path d="M937.0 399.5 L941.2 402.5 L945.5 400.8 L943.0 405.0 L940.0 408.0 L935.8 406.8Z" fill="#2d3b93" stroke="none"/>
<path d="M915.8 421.0 L921.2 418.0 L926.2 416.2 L932.0 410.8 L935.5 412.5 L932.0 416.2 L927.5 420.5 L920.5 424.2 L917.0 423.5Z" fill="#2d3b93" stroke="none"/>
<path d="M707.8 232.2 L714.4 230.3 L721.9 229.8 L731.3 227.1 L735.4 229.9 L732.2 234.6 L724.7 236.9 L722.8 240.6 L720.4 244.4 L718.1 240.6 L719.6 235.9 L713.4 235.0 L709.1 234.6Z" fill="#b51d2b" stroke="none"/>
<path d="M711.0 236.1 L719.6 236.1 L718.5 244.0 L715.5 244.8 L712.5 243.3Z" fill="#f08a55" />
</g>
<text x="48.6" y="58.4" font-size="35" font-weight="normal" fill="#3c3c3c" text-anchor="start" textLength="628.5" lengthAdjust="spacingAndGlyphs" stroke="#fff" stroke-width="0.9">Ilmansaasteisiin kuolleiden määrä 2013</text>
<g fill="#1a72b8"><ellipse cx="753.80" cy="46.86" rx="10.90" ry="8.46"/><ellipse cx="743.84" cy="53.82" rx="10.34" ry="6.77"/><ellipse cx="769.60" cy="50.06" rx="10.90" ry="7.52"/><ellipse cx="756.06" cy="55.70" rx="14.10" ry="6.20"/><ellipse cx="765.46" cy="56.26" rx="9.40" ry="4.89"/></g>
<path d="M752.25 72.20 L773.40 89.60 L765.90 89.60 L765.90 111.00 L750.90 111.00 L750.90 94.70 L744.40 94.70 L744.40 111.00 L738.75 111.00 L738.75 89.60 L730.90 89.60 Z" fill="#e8202e"/><path d="M755.60 93.70 L762.80 93.70 L762.80 99.70 L755.60 99.70 Z" fill="#fff"/>
<text x="769.7" y="68.4" font-size="12.3" font-weight="normal" fill="#6a6a6a" text-anchor="start" textLength="111.6" lengthAdjust="spacingAndGlyphs" >Saasteet ulkoilmassa</text>
<text x="774.4" y="99.75" font-size="12.3" font-weight="normal" fill="#6a6a6a" text-anchor="start" textLength="108.7" lengthAdjust="spacingAndGlyphs" >Saasteet sisäilmassa</text>
<circle cx="371.5" cy="221.3" r="75" fill="none" stroke="#b2b2b2" stroke-width="1.3"/>
<text x="342.8" y="187.5" font-size="27.5" font-weight="bold" fill="#3d3d3d" text-anchor="start" textLength="67.5" lengthAdjust="spacingAndGlyphs" stroke="#3d3d3d" stroke-width="0.8">85%</text>
<text x="373.7" y="210.0" font-size="12" font-weight="normal" fill="#3a3a3a" text-anchor="middle" textLength="106.3" lengthAdjust="spacingAndGlyphs" stroke="#3a3a3a" stroke-width="0.35">Maailman väestöstä</text>
<text x="373.7" y="224.0" font-size="12" font-weight="normal" fill="#3a3a3a" text-anchor="middle" textLength="100.5" lengthAdjust="spacingAndGlyphs" stroke="#3a3a3a" stroke-width="0.35">asuu alueilla, joissa</text>
<text x="373.7" y="238.0" font-size="12" font-weight="normal" fill="#3a3a3a" text-anchor="middle" textLength="101" lengthAdjust="spacingAndGlyphs" stroke="#3a3a3a" stroke-width="0.35">WHO:n suositukset</text>
<text x="373.7" y="252.0" font-size="12" font-weight="normal" fill="#3a3a3a" text-anchor="middle" textLength="106.5" lengthAdjust="spacingAndGlyphs" stroke="#3a3a3a" stroke-width="0.35">ilman laadusta eivät</text>
<text x="373.7" y="266.0" font-size="12" font-weight="normal" fill="#3a3a3a" text-anchor="middle" textLength="27.5" lengthAdjust="spacingAndGlyphs" stroke="#3a3a3a" stroke-width="0.35">täyty</text>
<circle cx="202.4" cy="360.2" r="70" fill="none" stroke="#b2b2b2" stroke-width="1.3"/>
<text x="184.1" y="335.3" font-size="26" font-weight="bold" fill="#3d3d3d" text-anchor="start" textLength="38.4" lengthAdjust="spacingAndGlyphs" stroke="#3d3d3d" stroke-width="1">#4</text>
<text x="203.3" y="349.75" font-size="12" font-weight="normal" fill="#3a3a3a" text-anchor="middle" textLength="121" lengthAdjust="spacingAndGlyphs" stroke="#3a3a3a" stroke-width="0.35">Kuolemaan johtaneista</text>
<text x="203.3" y="363.7" font-size="12" font-weight="normal" fill="#3a3a3a" text-anchor="middle" textLength="109.7" lengthAdjust="spacingAndGlyphs" stroke="#3a3a3a" stroke-width="0.35">syistä ilmansaasteet</text>
<text x="203.3" y="377.65" font-size="12" font-weight="normal" fill="#3a3a3a" text-anchor="middle" textLength="131.6" lengthAdjust="spacingAndGlyphs" stroke="#3a3a3a" stroke-width="0.35">ovat maailmanlaajuisesti</text>
<text x="203.3" y="391.6" font-size="12" font-weight="normal" fill="#3a3a3a" text-anchor="middle" textLength="61" lengthAdjust="spacingAndGlyphs" stroke="#3a3a3a" stroke-width="0.35">sijalla neljä.</text>
<text x="808.5" y="238.0" font-size="11.8" font-weight="normal" fill="#333" text-anchor="start" textLength="123.7" lengthAdjust="spacingAndGlyphs" stroke="#333" stroke-width="0.35">Kiinassa ja Intiassa vain</text>
<text x="808.5" y="251.75" font-size="11.8" font-weight="normal" fill="#333" text-anchor="start" textLength="156.6" lengthAdjust="spacingAndGlyphs" stroke="#333" stroke-width="0.35">yhdellä prosentilla asukkaista</text>
<text x="808.5" y="265.5" font-size="11.8" font-weight="normal" fill="#333" text-anchor="start" textLength="98.4" lengthAdjust="spacingAndGlyphs" stroke="#333" stroke-width="0.35">ilmanlaatu täyttää</text>
<text x="808.5" y="279.25" font-size="11.8" font-weight="normal" fill="#333" text-anchor="start" textLength="101.2" lengthAdjust="spacingAndGlyphs" stroke="#333" stroke-width="0.35">WHO:n suositukset</text>
<line x1="681.9" y1="262" x2="681.9" y2="309" stroke="#9a9a9a" stroke-width="1"/>
<line x1="681.9" y1="262" x2="681.9" y2="280" stroke="#f3bcbc" stroke-width="1"/>
<circle cx="681.9" cy="258.2" r="3.6" fill="none" stroke="#f6c6c6" stroke-width="1.1"/>
<line x1="768.6" y1="218" x2="768.6" y2="446.5" stroke="#a6a6a6" stroke-width="1"/>
<line x1="768.6" y1="218" x2="768.6" y2="251" stroke="#f3bcbc" stroke-width="1"/>
<circle cx="768.7" cy="214.2" r="3.6" fill="none" stroke="#f6c6c6" stroke-width="1.1"/>
<line x1="772.5" y1="450" x2="793" y2="450" stroke="#9a9a9a" stroke-width="1"/>
<circle cx="769" cy="450" r="3.3" fill="#fff" stroke="#333" stroke-width="1.2"/>
<circle cx="682.2" cy="359.7" r="51.3" fill="#d7d8da"/>
<text x="665.6" y="331.9" font-size="11" font-weight="bold" fill="#333" text-anchor="start" textLength="34.7" lengthAdjust="spacingAndGlyphs" stroke="#333" stroke-width="0.3">INTIA</text>
<path d="M652.25 344.00 L662.80 353.28 L659.06 353.28 L659.06 364.70 L651.58 364.70 L651.58 356.00 L648.33 356.00 L648.33 364.70 L645.52 364.70 L645.52 353.28 L641.60 353.28 Z" fill="#e8202e"/><path d="M653.92 355.47 L657.51 355.47 L657.51 358.67 L653.92 358.67 Z" fill="#fff"/>
<text x="677.25" y="353.4" font-size="8.8" font-weight="bold" fill="#333" text-anchor="start" textLength="41.2" lengthAdjust="spacingAndGlyphs" word-spacing="-1.2">920 000</text>
<text x="677.25" y="363.75" font-size="10" font-weight="normal" fill="#666" text-anchor="start" textLength="36.2" lengthAdjust="spacingAndGlyphs" >kuolleita</text>
<line x1="642.2" y1="369.4" x2="724.7" y2="369.4" stroke="#bdbdbf" stroke-width="0.8"/>
<g fill="#1e7fc9"><ellipse cx="651.70" cy="381.11" rx="6.82" ry="5.11"/><ellipse cx="645.47" cy="385.32" rx="6.47" ry="4.09"/><ellipse cx="661.58" cy="383.04" rx="6.82" ry="4.54"/><ellipse cx="653.11" cy="386.45" rx="8.82" ry="3.75"/><ellipse cx="658.99" cy="386.79" rx="5.88" ry="2.95"/></g>
<text x="678.75" y="382.5" font-size="8.8" font-weight="bold" fill="#333" text-anchor="start" textLength="40.6" lengthAdjust="spacingAndGlyphs" word-spacing="-1.2">590 000</text>
<text x="678.75" y="392.8" font-size="10" font-weight="normal" fill="#666" text-anchor="start" textLength="35.3" lengthAdjust="spacingAndGlyphs" >kuolleita</text>
<circle cx="842.9" cy="471.4" r="52.7" fill="#d7d8da"/>
<text x="823.4" y="443.5" font-size="11" font-weight="bold" fill="#333" text-anchor="start" textLength="35.1" lengthAdjust="spacingAndGlyphs" stroke="#333" stroke-width="0.3">KIINA</text>
<line x1="808.4" y1="449.1" x2="879.7" y2="449.1" stroke="#c3c3c5" stroke-width="0.8"/>
<path d="M814.10 453.00 L825.30 461.97 L821.33 461.97 L821.33 473.00 L813.39 473.00 L813.39 464.60 L809.95 464.60 L809.95 473.00 L806.96 473.00 L806.96 461.97 L802.80 461.97 Z" fill="#e8202e"/><path d="M815.88 464.08 L819.69 464.08 L819.69 467.18 L815.88 467.18 Z" fill="#fff"/>
<text x="839.4" y="461" font-size="8.8" font-weight="bold" fill="#333" text-anchor="start" textLength="40.3" lengthAdjust="spacingAndGlyphs" word-spacing="-1.2">910 000</text>
<text x="841.25" y="471.6" font-size="10" font-weight="normal" fill="#666" text-anchor="start" textLength="36.5" lengthAdjust="spacingAndGlyphs" >kuolleita</text>
<line x1="801.9" y1="476.9" x2="884.4" y2="476.9" stroke="#bdbdbf" stroke-width="0.8"/>
<g fill="#1e7fc9"><ellipse cx="812.79" cy="489.80" rx="6.87" ry="5.40"/><ellipse cx="806.51" cy="494.24" rx="6.51" ry="4.32"/><ellipse cx="822.73" cy="491.84" rx="6.87" ry="4.80"/><ellipse cx="814.21" cy="495.44" rx="8.88" ry="3.96"/><ellipse cx="820.13" cy="495.80" rx="5.92" ry="3.12"/></g>
<text x="839.4" y="492.8" font-size="8.8" font-weight="bold" fill="#333" text-anchor="start" textLength="40.3" lengthAdjust="spacingAndGlyphs" word-spacing="-1.2">810 000</text>
<text x="839" y="503.1" font-size="10" font-weight="normal" fill="#666" text-anchor="start" textLength="36.5" lengthAdjust="spacingAndGlyphs" >kuolleita</text>
<defs><linearGradient id="lg" x1="0" x2="1" y1="0" y2="0">
<stop offset="0" stop-color="#2b3f9b"/><stop offset="0.115" stop-color="#4a7cc4"/><stop offset="0.245" stop-color="#b5dcef"/>
<stop offset="0.30" stop-color="#eef4e6"/><stop offset="0.365" stop-color="#fbf2a6"/><stop offset="0.45" stop-color="#f6a75a"/>
<stop offset="0.565" stop-color="#e8502f"/><stop offset="0.675" stop-color="#b51e2b"/><stop offset="1" stop-color="#b21d2a"/></linearGradient>
<linearGradient id="lg2" x1="0" x2="1" y1="0" y2="0"><stop offset="0" stop-color="#2b3f9b"/><stop offset="1" stop-color="#4a7cc4"/></linearGradient>
<linearGradient id="rg" gradientUnits="userSpaceOnUse" x1="0" y1="103" x2="0" y2="138"><stop offset="0" stop-color="#fefae0"/><stop offset="0.5" stop-color="#fbf4b8"/><stop offset="1" stop-color="#faf2a8"/></linearGradient>
<filter id="bl" x="-20%" y="-50%" width="140%" height="200%"><feGaussianBlur stdDeviation="0.9"/></filter></defs>
<path d="M455 418 H608 V440.75 H455 a3 3 0 0 1 -3 -3 V421 a3 3 0 0 1 3 -3Z" fill="url(#lg)"/>
<g filter="url(#bl)"><rect x="452.5" y="402.7" width="21" height="7" rx="3.5" fill="url(#lg2)"/><rect x="474" y="403.2" width="18" height="6" rx="3" fill="#9cc6e8" opacity="0.75"/><rect x="500" y="403.5" width="12" height="5.5" rx="2.7" fill="#fbf6cf" opacity="0.8"/><rect x="531.5" y="403.2" width="10.5" height="6" rx="3" fill="#f2a494" opacity="0.85"/></g>
<line x1="456.75" y1="442.5" x2="456.75" y2="450.75" stroke="#444" stroke-width="1"/>
<line x1="558" y1="442.5" x2="558" y2="450.75" stroke="#444" stroke-width="1"/>
<text x="450.5" y="463" font-size="9.5" font-weight="normal" fill="#444" text-anchor="start" textLength="27.5" lengthAdjust="spacingAndGlyphs" >4000</text>
<text x="545" y="463" font-size="9.5" font-weight="normal" fill="#444" text-anchor="start" textLength="44.5" lengthAdjust="spacingAndGlyphs" >200 000</text>
<text x="598.75" y="462.5" font-size="7" font-weight="bold" fill="#444" text-anchor="start" textLength="16.3" lengthAdjust="spacingAndGlyphs" >>>></text>
<text x="625" y="463" font-size="9.5" font-weight="normal" fill="#444" text-anchor="start" textLength="53" lengthAdjust="spacingAndGlyphs" >1 700 000</text>
<text x="66.1" y="491.75" font-size="10.5" font-weight="bold" fill="#111" text-anchor="start" textLength="48.4" lengthAdjust="spacingAndGlyphs" stroke="#111" stroke-width="0.3">Lähteet:</text>
<text x="66.1" y="508.6" font-size="11.5" font-weight="normal" fill="#333" text-anchor="start" textLength="256.5" lengthAdjust="spacingAndGlyphs" >The Lancet. 2015 Dec 5;386(10010):2287-323.</text>
<text x="66.1" y="522.5" font-size="11.5" font-weight="normal" fill="#333" text-anchor="start" textLength="332.6" lengthAdjust="spacingAndGlyphs" >Environmental Science &amp; Technology. 2016 Jan 5;50(1):79-88.</text>
</svg>
</body></html>
